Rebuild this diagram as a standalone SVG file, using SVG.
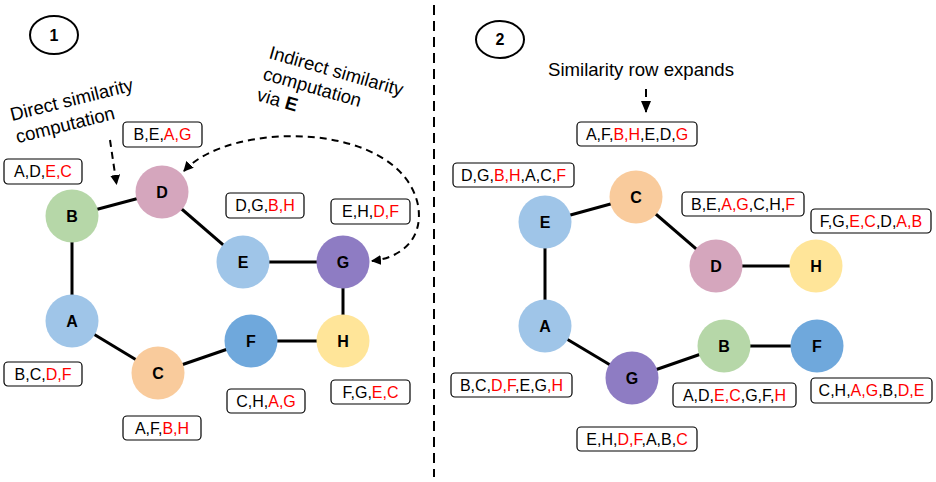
<svg xmlns="http://www.w3.org/2000/svg" width="936" height="482" viewBox="0 0 936 482">
<defs>
<style>
text{font-family:"Liberation Sans",Arial,sans-serif;fill:#000}
.nl{font-size:16px;font-weight:bold;text-anchor:middle}
.bx{fill:#fff;stroke:#000;stroke-width:1.2}
.bt{font-size:16px;text-anchor:middle}
.r{fill:#ff0000}
.edge{stroke:#000;stroke-width:3;fill:none}
.dash{stroke:#000;stroke-width:2;fill:none;stroke-dasharray:7,5}
.ann{font-size:18.6px}
</style>
<marker id="ah" viewBox="0 0 10 10" refX="9" refY="5" markerWidth="10" markerHeight="10" markerUnits="userSpaceOnUse" orient="auto-start-reverse">
<path d="M0,0 L10,5 L0,10 z" fill="#000"/>
</marker>
<marker id="ah2" viewBox="0 0 12 10" refX="11" refY="5" markerWidth="12" markerHeight="10" markerUnits="userSpaceOnUse" orient="auto">
<path d="M0,0 L12,5 L0,10 z" fill="#000"/>
</marker>
</defs>
<rect width="936" height="482" fill="#fff"/>

<g id="divider"><line x1="434" y1="5" x2="434" y2="477" stroke="#000" stroke-width="2" stroke-dasharray="10,6"/></g>

<g id="step1"><ellipse cx="54" cy="35" rx="24" ry="19" fill="none" stroke="#000" stroke-width="2"/><text class="nl" x="54" y="41">1</text></g>
<g id="step2"><ellipse cx="500" cy="39.5" rx="24" ry="18.5" fill="none" stroke="#000" stroke-width="2"/><text class="nl" x="500" y="45">2</text></g>

<g id="annotations">
<text class="ann" transform="rotate(-14 12 121)" x="12" y="121">Direct similarity<tspan x="12" dy="23">computation</tspan></text>
<text class="ann" transform="rotate(16 268 58)" x="268" y="58">Indirect similarity<tspan x="268" dy="22">computation</tspan><tspan x="268" dy="22">via <tspan font-weight="bold">E</tspan></tspan></text>
<text class="ann" x="548" y="76">Similarity row expands</text>
</g>

<g id="connectors">
<line class="edge" x1="72" y1="216" x2="162" y2="192"/>
<line class="edge" x1="72" y1="216" x2="72" y2="321"/>
<line class="edge" x1="162" y1="192" x2="243" y2="262"/>
<line class="edge" x1="243" y1="262" x2="343" y2="262"/>
<line class="edge" x1="343" y1="262" x2="343" y2="341"/>
<line class="edge" x1="343" y1="341" x2="251" y2="341"/>
<line class="edge" x1="251" y1="341" x2="158" y2="373"/>
<line class="edge" x1="158" y1="373" x2="72" y2="321"/>
<line class="edge" x1="545" y1="222" x2="636" y2="197"/>
<line class="edge" x1="636" y1="197" x2="716" y2="266"/>
<line class="edge" x1="716" y1="266" x2="816" y2="266"/>
<line class="edge" x1="545" y1="222" x2="545" y2="326"/>
<line class="edge" x1="545" y1="326" x2="632" y2="378"/>
<line class="edge" x1="632" y1="378" x2="724" y2="346"/>
<line class="edge" x1="724" y1="346" x2="817" y2="346"/>
<path class="dash" d="M110,140 L116.5,184" marker-end="url(#ah)"/>
<path class="dash" d="M184,171 C230,120 400,120 418,205 C424,240 400,258 372,261" stroke-dasharray="8,5" marker-start="url(#ah)" marker-end="url(#ah)"/>
<path d="M646,89 L646,97" stroke="#000" stroke-width="2"/>
<path d="M646,101 L646,112" stroke="#000" stroke-width="2" marker-end="url(#ah2)"/>
</g>

<g id="node-B1"><circle cx="72" cy="216" r="26.5" fill="#b6d7a8"/><text class="nl" x="72" y="222">B</text></g>
<g id="node-D1"><circle cx="162" cy="192" r="26.5" fill="#d5a6bd"/><text class="nl" x="162" y="198">D</text></g>
<g id="node-E1"><circle cx="243" cy="262" r="26.5" fill="#9fc5e8"/><text class="nl" x="243" y="268">E</text></g>
<g id="node-G1"><circle cx="343" cy="262" r="26.5" fill="#8e7cc3"/><text class="nl" x="343" y="268">G</text></g>
<g id="node-A1"><circle cx="72" cy="321" r="26.5" fill="#9fc5e8"/><text class="nl" x="72" y="327">A</text></g>
<g id="node-H1"><circle cx="343" cy="341" r="26.5" fill="#ffe599"/><text class="nl" x="343" y="347">H</text></g>
<g id="node-F1"><circle cx="251" cy="341" r="26.5" fill="#6fa8dc"/><text class="nl" x="251" y="347">F</text></g>
<g id="node-C1"><circle cx="158" cy="373" r="26.5" fill="#f9cb9c"/><text class="nl" x="158" y="379">C</text></g>

<g id="node-C2"><circle cx="636" cy="197" r="26.5" fill="#f9cb9c"/><text class="nl" x="636" y="203">C</text></g>
<g id="node-E2"><circle cx="545" cy="222" r="26.5" fill="#9fc5e8"/><text class="nl" x="545" y="228">E</text></g>
<g id="node-D2"><circle cx="716" cy="266" r="26.5" fill="#d5a6bd"/><text class="nl" x="716" y="272">D</text></g>
<g id="node-H2"><circle cx="816" cy="266" r="26.5" fill="#ffe599"/><text class="nl" x="816" y="272">H</text></g>
<g id="node-A2"><circle cx="545" cy="326" r="26.5" fill="#9fc5e8"/><text class="nl" x="545" y="332">A</text></g>
<g id="node-B2"><circle cx="724" cy="346" r="26.5" fill="#b6d7a8"/><text class="nl" x="724" y="352">B</text></g>
<g id="node-F2"><circle cx="817" cy="346" r="26.5" fill="#6fa8dc"/><text class="nl" x="817" y="352">F</text></g>
<g id="node-G2"><circle cx="632" cy="378" r="26.5" fill="#8e7cc3"/><text class="nl" x="632" y="384">G</text></g>

<g id="list-B1"><rect class="bx" x="4" y="159" width="78" height="25" rx="4"/><text class="bt" x="43" y="177">A,D,<tspan class="r">E,C</tspan></text></g>
<g id="list-D1"><rect class="bx" x="123" y="122" width="79" height="25" rx="4"/><text class="bt" x="162.5" y="140">B,E,<tspan class="r">A,G</tspan></text></g>
<g id="list-E1"><rect class="bx" x="226" y="193" width="78" height="25" rx="4"/><text class="bt" x="265" y="211">D,G,<tspan class="r">B,H</tspan></text></g>
<g id="list-G1"><rect class="bx" x="331" y="199" width="79" height="25" rx="4"/><text class="bt" x="370.5" y="217">E,H,<tspan class="r">D,F</tspan></text></g>
<g id="list-A1"><rect class="bx" x="4" y="362" width="78" height="24" rx="4"/><text class="bt" x="43" y="380">B,C,<tspan class="r">D,F</tspan></text></g>
<g id="list-C1"><rect class="bx" x="123" y="416" width="78" height="24" rx="4"/><text class="bt" x="162" y="434">A,F,<tspan class="r">B,H</tspan></text></g>
<g id="list-F1"><rect class="bx" x="227" y="389" width="78" height="24" rx="4"/><text class="bt" x="266" y="407">C,H,<tspan class="r">A,G</tspan></text></g>
<g id="list-H1"><rect class="bx" x="331" y="380" width="79" height="24" rx="4"/><text class="bt" x="370.5" y="398">F,G,<tspan class="r">E,C</tspan></text></g>

<g id="list-C2"><rect class="bx" x="577" y="122" width="120" height="24" rx="4"/><text class="bt" x="637" y="140">A,F,<tspan class="r">B,H</tspan>,E,D,<tspan class="r">G</tspan></text></g>
<g id="list-E2"><rect class="bx" x="453" y="163" width="121" height="24" rx="4"/><text class="bt" x="513.5" y="181">D,G,<tspan class="r">B,H</tspan>,A,C,<tspan class="r">F</tspan></text></g>
<g id="list-D2"><rect class="bx" x="682" y="192" width="122" height="24" rx="4"/><text class="bt" x="743" y="210">B,E,<tspan class="r">A,G</tspan>,C,H,<tspan class="r">F</tspan></text></g>
<g id="list-H2"><rect class="bx" x="811" y="209" width="120" height="24" rx="4"/><text class="bt" x="871" y="227">F,G,<tspan class="r">E,C</tspan>,D,<tspan class="r">A,B</tspan></text></g>
<g id="list-A2"><rect class="bx" x="451" y="373" width="121" height="24" rx="4"/><text class="bt" x="511.5" y="391">B,C,<tspan class="r">D,F</tspan>,E,G<tspan class="r">,H</tspan></text></g>
<g id="list-B2"><rect class="bx" x="673" y="383" width="123" height="24" rx="4"/><text class="bt" x="734.5" y="401">A,D,<tspan class="r">E,C</tspan>,G,F,<tspan class="r">H</tspan></text></g>
<g id="list-F2"><rect class="bx" x="811" y="378" width="121" height="25" rx="4"/><text class="bt" x="871.5" y="396">C,H,<tspan class="r">A,G</tspan>,B,<tspan class="r">D,E</tspan></text></g>
<g id="list-G2"><rect class="bx" x="577" y="427" width="120" height="24" rx="4"/><text class="bt" x="637" y="445">E,H,<tspan class="r">D,F</tspan>,A,B,<tspan class="r">C</tspan></text></g>
</svg>
